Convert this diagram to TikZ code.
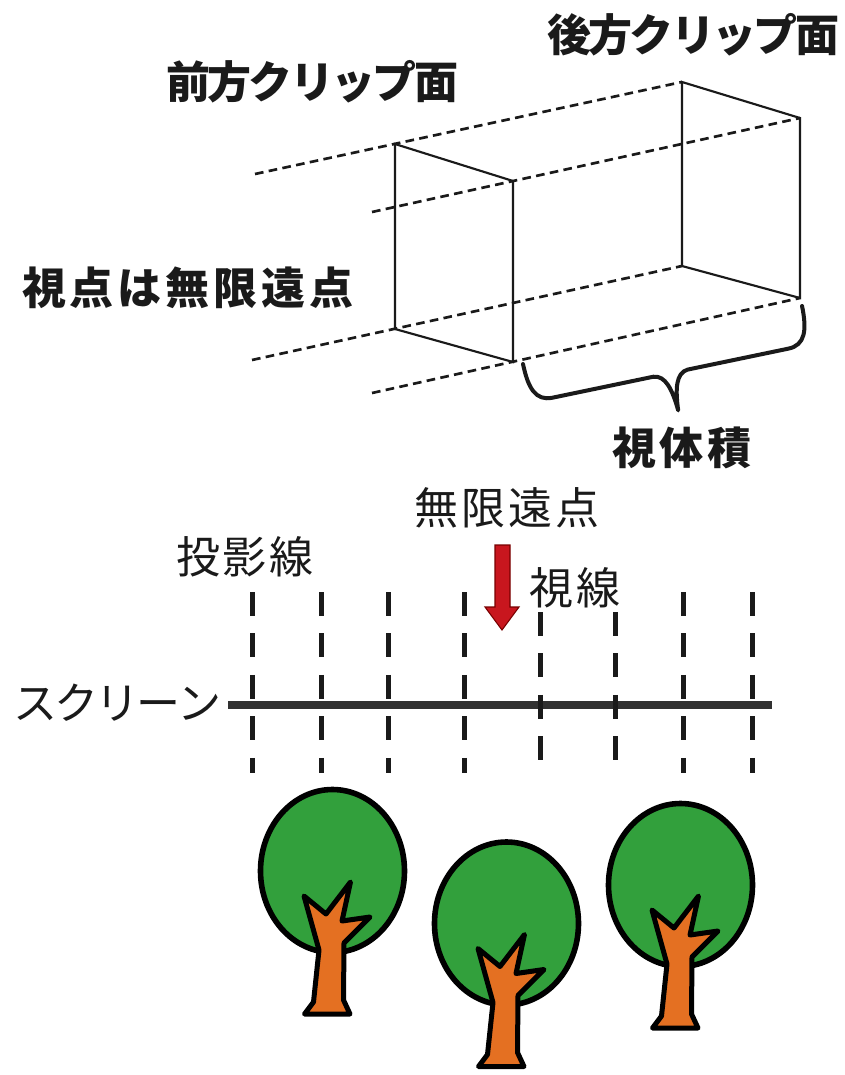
\documentclass[tikz,border=0pt]{standalone}
\usepackage{fontspec}
\newfontfamily\jp{Noto Sans CJK JP}
\definecolor{leaf}{RGB}{50,160,60}
\definecolor{bark}{RGB}{228,112,34}
\definecolor{arrowred}{RGB}{200,22,30}
\definecolor{arrowdark}{RGB}{120,0,0}
\definecolor{ink}{RGB}{26,26,26}
\newcommand\spaced[2]{\def\spk{\kern#1}\spacedfirst#2\relax}
\def\spacedfirst#1{#1\spacedrest}
\def\spacedrest#1{\ifx#1\relax\else\spk#1\expandafter\spacedrest\fi}
\tikzset{
  lbl/.style={inner sep=0pt, text=ink, font=\jp\fontsize{33}{36}\selectfont},
  blbl/.style={inner sep=0pt, text=ink, font=\jp\bfseries\fontsize{33}{36}\selectfont},
  solidedge/.style={line width=1.6pt, draw=ink},
  rayline/.style={line width=2pt, draw=ink, dash pattern=on 6.5pt off 4pt},
  bracestroke/.style={line width=3pt, draw=ink, line cap=round, line join=round},
  screenline/.style={line width=6.5pt, draw=ink!90},
  projline/.style={line width=3.75pt, draw=ink, dash pattern=on 18pt off 13.1pt},
  arrowshape/.style={fill=arrowred, draw=arrowdark, line width=0.8pt, line join=miter},
  crown/.style={fill=leaf, draw=black, line width=4.2pt},
  trunk/.style={fill=bark, draw=black, line width=3.75pt, line join=round},
  tree/.pic={
    \draw[crown] (0,0) ellipse [x radius=72, y radius=81.5];
    \draw[trunk] (-28,143) -- (-19,131) -- (-13.5,79) -- (-28.5,25) -- (-6.5,43)
      -- (18,11) -- (9.5,50) -- (37.5,46) -- (11.5,72) -- (11,129) -- (17.5,143) -- cycle;
  }
}
\begin{document}
\begin{tikzpicture}[x=0.75pt,y=-0.75pt]
\path[use as bounding box, fill=white] (0,0) rectangle (844,1075);

% frustum corners
\coordinate (FTL) at (395,144);
\coordinate (FTR) at (513,181);
\coordinate (FBL) at (395,329);
\coordinate (FBR) at (513,362);
\coordinate (BTL) at (682,82);
\coordinate (BTR) at (800,118);
\coordinate (BBL) at (682,266);
\coordinate (BBR) at (800,298);
\coordinate (R1) at (255,174);
\coordinate (R2) at (372,212);
\coordinate (R3) at (252,360);
\coordinate (R4) at (372,393);

\draw[rayline] (R1) -- (BTL);
\draw[rayline] (R2) -- (BTR);
\draw[rayline] (R3) -- (BBL);
\draw[rayline] (R4) -- (BBR);

\draw[solidedge] (FTL) -- (FTR) -- (FBR) -- (FBL) -- cycle;
\draw[solidedge] (BTL) -- (BTR) -- (BBR) -- (BBL) -- cycle;

% brace
\begin{scope}[shift={(523,364)}, rotate=11.75]
  \draw[bracestroke] (0,0) .. controls (0,25) and (5,39) .. (22,39) -- (125,39)
    .. controls (137,40) and (141,55) .. (142.5,77)
    .. controls (144,55) and (148,40) .. (160,39) -- (263,39)
    .. controls (280,39) and (285,25) .. (285,0);
\end{scope}

% labels
\node[blbl] (back) at (693,35) {\spaced{-2pt}{後方クリップ面}};
\node[blbl] (front) at (312,82) {\spaced{-2pt}{前方クリップ面}};
\node[blbl] (eye) at (188,288) {\spaced{3pt}{視点は無限遠点}};
\node[blbl] (vol) at (682,448) {\spaced{3pt}{視体積}};
\node[lbl] (inf) at (507,508) {\spaced{2.25pt}{無限遠点}};
\node[lbl] (proj) at (245,557) {\spaced{2.25pt}{投影線}};
\node[lbl] (sight) at (575,588) {\spaced{2.25pt}{視線}};
\node[lbl] (scr) at (117,703) {\spaced{-2.25pt}{スクリーン}};

% screen
\coordinate (S1) at (228,705);
\coordinate (S2) at (772,705);
\draw[screenline] (S1) -- (S2);

% projection lines
\foreach \x in {252,321,388,464,683,752}
  \draw[projline] (\x,592) -- (\x,773);
\foreach \x in {540,615}
  \draw[projline] (\x,612) -- (\x,760);

% red arrow
\draw[arrowshape] (495,545) -- (510,545) -- (510,607) -- (519,607) -- (502,630)
  -- (485,607) -- (495,607) -- cycle;

% trees
\pic (t1) at (332.5,871) {tree};
\pic (t2) at (506.5,923.5) {tree};
\pic (t3) at (680.5,885) {tree};
\end{tikzpicture}
\end{document}
